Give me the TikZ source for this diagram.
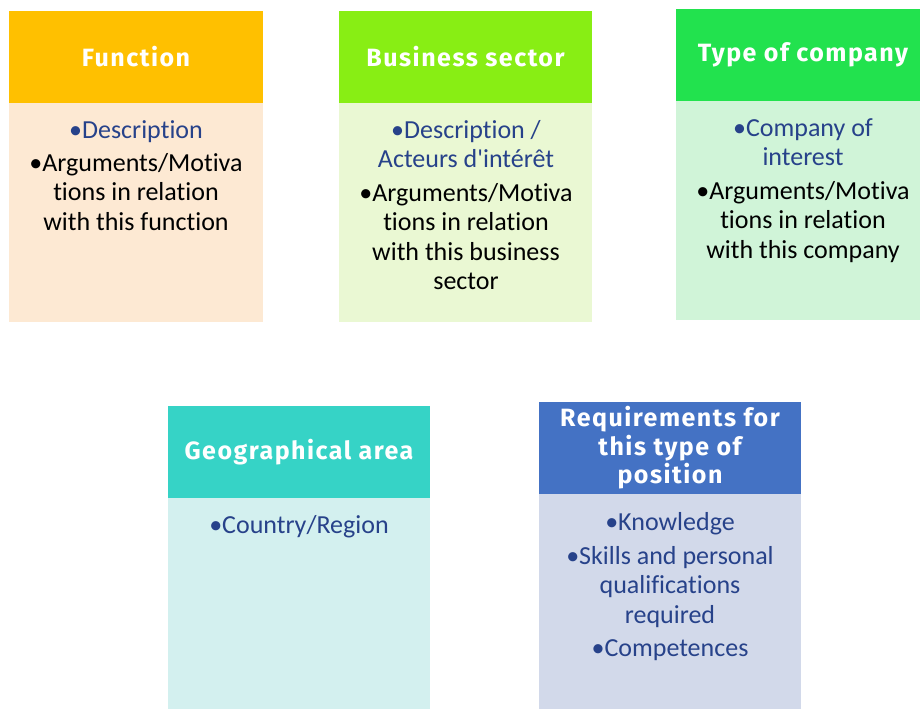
\documentclass[tikz,border=0pt]{standalone}
\usepackage{fontspec}
\setmainfont[Ligatures={NoCommon,NoRare,NoDiscretionary}]{Carlito}
\newfontfamily\hdrfont[LetterSpace=6]{Fira Sans}
\definecolor{h1c}{HTML}{FFC000}
\definecolor{b1c}{HTML}{FDE9D3}
\definecolor{h2c}{HTML}{88EE14}
\definecolor{b2c}{HTML}{EAF8D3}
\definecolor{h3c}{HTML}{22E24E}
\definecolor{b3c}{HTML}{D0F4D8}
\definecolor{h4c}{HTML}{36D3C6}
\definecolor{b4c}{HTML}{D3F0EF}
\definecolor{h5c}{HTML}{4472C4}
\definecolor{b5c}{HTML}{D2D9EA}
\definecolor{bluetxt}{HTML}{27428A}
\tikzset{
  hdr/.style={inner sep=0pt, text=white, font=\hdrfont\bfseries\fontsize{25}{28.5}\selectfont, align=center},
  bodybox/.style={inner sep=0pt, anchor=north},
  item/.style={inner sep=0pt, align=center, font=\fontsize{26}{29.5}\selectfont, anchor=north},
}
\begin{document}
\begin{tikzpicture}[x=1pt,y=-1pt]
\useasboundingbox (0,0) rectangle (920,709);
% card 1
\node[hdr, fill=h1c, minimum width=254pt, minimum height=92pt] (h1) at (136,57) {Function};
\node[bodybox, fill=b1c, minimum width=254pt, minimum height=219pt] (b1) at (h1.south) {};
\node[item, text=bluetxt] (t1a) at (136,120) {•Description};
\node[item] (t1b) at (136,153) {•Arguments/Motiva\\tions in relation\\with this function};
% card 2
\node[hdr, fill=h2c, minimum width=253pt, minimum height=92pt] (h2) at (465.5,57) {Business sector};
\node[bodybox, fill=b2c, minimum width=253pt, minimum height=219pt] (b2) at (h2.south) {};
\node[item, text=bluetxt] (t2a) at (466,120) {•Description /\\Acteurs d\textquotesingle intérêt};
\node[item] (t2b) at (466,183) {•Arguments/Motiva\\tions in relation\\with this business\\sector};
% card 3
\node[hdr, fill=h3c, minimum width=244pt, minimum height=92pt] (h3) at (798,55) {\hspace*{10pt}Type of company};
\node[bodybox, fill=b3c, minimum width=244pt, minimum height=219pt] (b3) at (h3.south) {};
\node[item, text=bluetxt] (t3a) at (803,118) {•Company of\\interest};
\node[item] (t3b) at (803,181) {•Arguments/Motiva\\tions in relation\\with this company};
% card 4
\node[hdr, fill=h4c, minimum width=262pt, minimum height=92pt] (h4) at (299,452) {Geographical area};
\node[bodybox, fill=b4c, minimum width=262pt, minimum height=211pt] (b4) at (h4.south) {};
\node[item, text=bluetxt] (t4a) at (299,515) {•Country/Region};
% card 5
\node[hdr, fill=h5c, minimum width=262pt, minimum height=92pt] (h5) at (670,448) {Requirements for\\this type of\\position};
\node[bodybox, fill=b5c, minimum width=262pt, minimum height=215pt] (b5) at (h5.south) {};
\node[item, text=bluetxt] (t5a) at (670,512) {•Knowledge};
\node[item, text=bluetxt] (t5b) at (670,546) {•Skills and personal\\qualifications\\required};
\node[item, text=bluetxt] (t5c) at (670,639) {•Competences};
\end{tikzpicture}
\end{document}
